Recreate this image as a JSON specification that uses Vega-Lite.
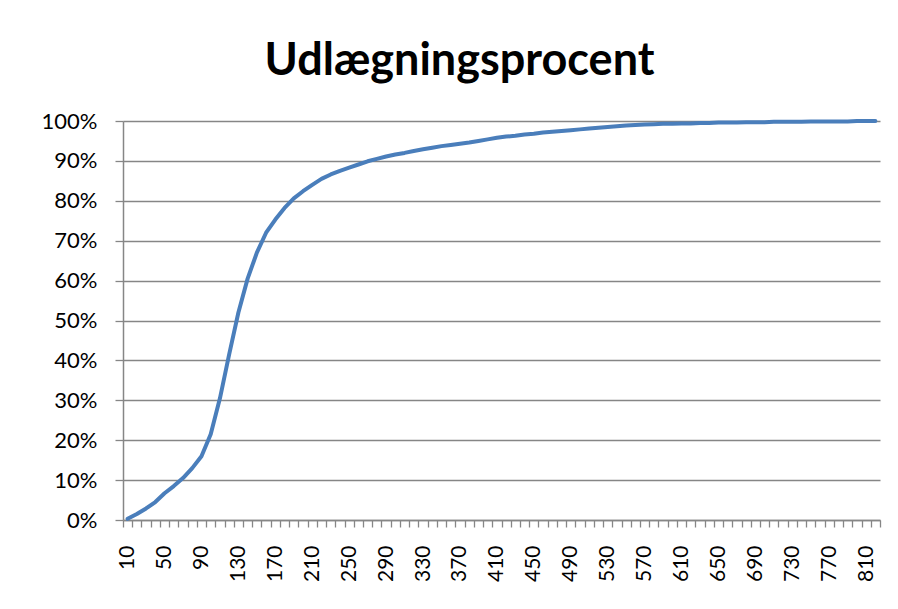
{
  "$schema": "https://vega.github.io/schema/vega-lite/v6.json",
  "width": 757,
  "height": 399,
  "autosize": {"type": "none"},
  "padding": {"left": 123, "top": 121, "right": 18, "bottom": 89},
  "background": "white",
  "title": {
    "text": "Udlægningsprocent",
    "font": "Lato",
    "fontSize": 45,
    "fontWeight": "bold",
    "color": "#000000",
    "anchor": "middle",
    "frame": "group",
    "dx": -42,
    "dy": 53,
    "baseline": "alphabetic",
    "offset": 43
  },
  "config": {
    "view": {"stroke": null},
    "axis": {"labelFont": "Lato", "labelColor": "#000000", "labelFontSize": 21}
  },
  "data": {
    "values": [
      {"kategori": 10, "andel": 0.003},
      {"kategori": 20, "andel": 0.015},
      {"kategori": 30, "andel": 0.029},
      {"kategori": 40, "andel": 0.045},
      {"kategori": 50, "andel": 0.067},
      {"kategori": 60, "andel": 0.085},
      {"kategori": 70, "andel": 0.105},
      {"kategori": 80, "andel": 0.13},
      {"kategori": 90, "andel": 0.16},
      {"kategori": 100, "andel": 0.215},
      {"kategori": 110, "andel": 0.305},
      {"kategori": 120, "andel": 0.415},
      {"kategori": 130, "andel": 0.52},
      {"kategori": 140, "andel": 0.605},
      {"kategori": 150, "andel": 0.67},
      {"kategori": 160, "andel": 0.72},
      {"kategori": 170, "andel": 0.753},
      {"kategori": 180, "andel": 0.782},
      {"kategori": 190, "andel": 0.806},
      {"kategori": 200, "andel": 0.824},
      {"kategori": 210, "andel": 0.84},
      {"kategori": 220, "andel": 0.855},
      {"kategori": 230, "andel": 0.866},
      {"kategori": 240, "andel": 0.875},
      {"kategori": 250, "andel": 0.883},
      {"kategori": 260, "andel": 0.891},
      {"kategori": 270, "andel": 0.899},
      {"kategori": 280, "andel": 0.905},
      {"kategori": 290, "andel": 0.911},
      {"kategori": 300, "andel": 0.916},
      {"kategori": 310, "andel": 0.92},
      {"kategori": 320, "andel": 0.925},
      {"kategori": 330, "andel": 0.929},
      {"kategori": 340, "andel": 0.933},
      {"kategori": 350, "andel": 0.937},
      {"kategori": 360, "andel": 0.94},
      {"kategori": 370, "andel": 0.943},
      {"kategori": 380, "andel": 0.946},
      {"kategori": 390, "andel": 0.95},
      {"kategori": 400, "andel": 0.954},
      {"kategori": 410, "andel": 0.958},
      {"kategori": 420, "andel": 0.961},
      {"kategori": 430, "andel": 0.963},
      {"kategori": 440, "andel": 0.966},
      {"kategori": 450, "andel": 0.968},
      {"kategori": 460, "andel": 0.971},
      {"kategori": 470, "andel": 0.973},
      {"kategori": 480, "andel": 0.975},
      {"kategori": 490, "andel": 0.977},
      {"kategori": 500, "andel": 0.979},
      {"kategori": 510, "andel": 0.981},
      {"kategori": 520, "andel": 0.983},
      {"kategori": 530, "andel": 0.985},
      {"kategori": 540, "andel": 0.987},
      {"kategori": 550, "andel": 0.989},
      {"kategori": 560, "andel": 0.99},
      {"kategori": 570, "andel": 0.991},
      {"kategori": 580, "andel": 0.992},
      {"kategori": 590, "andel": 0.993},
      {"kategori": 600, "andel": 0.993},
      {"kategori": 610, "andel": 0.994},
      {"kategori": 620, "andel": 0.994},
      {"kategori": 630, "andel": 0.995},
      {"kategori": 640, "andel": 0.995},
      {"kategori": 650, "andel": 0.996},
      {"kategori": 660, "andel": 0.996},
      {"kategori": 670, "andel": 0.996},
      {"kategori": 680, "andel": 0.997},
      {"kategori": 690, "andel": 0.997},
      {"kategori": 700, "andel": 0.997},
      {"kategori": 710, "andel": 0.998},
      {"kategori": 720, "andel": 0.998},
      {"kategori": 730, "andel": 0.998},
      {"kategori": 740, "andel": 0.998},
      {"kategori": 750, "andel": 0.999},
      {"kategori": 760, "andel": 0.999},
      {"kategori": 770, "andel": 0.999},
      {"kategori": 780, "andel": 0.999},
      {"kategori": 790, "andel": 0.999},
      {"kategori": 800, "andel": 1.0},
      {"kategori": 810, "andel": 1.0},
      {"kategori": 820, "andel": 1.0}
    ]
  },
  "mark": {"type": "line", "color": "#4a7ebb", "strokeWidth": 4, "strokeCap": "round", "strokeJoin": "round"},
  "encoding": {
    "x": {
      "field": "kategori",
      "type": "ordinal",
      "scale": {"type": "band", "paddingInner": 0, "paddingOuter": 0},
      "axis": {
        "title": null,
        "labelAngle": -90,
        "labelAlign": "right",
        "labelBaseline": "middle",
        "labelPadding": 18,
        "labelExpr": "(datum.value - 10) % 40 == 0 ? datum.label : ''",
        "labelOverlap": false,
        "tickBand": "extent",
        "tickSize": 7,
        "tickColor": "#868686",
        "tickWidth": 1.3,
        "domainColor": "#868686",
        "domainWidth": 1.5,
        "grid": false
      }
    },
    "y": {
      "field": "andel",
      "type": "quantitative",
      "scale": {"domain": [0, 1], "nice": false, "zero": true},
      "axis": {
        "title": null,
        "values": [0, 0.1, 0.2, 0.3, 0.4, 0.5, 0.6, 0.7, 0.8, 0.9, 1.0],
        "format": ".0%",
        "tickSize": 8,
        "tickColor": "#868686",
        "tickWidth": 1.3,
        "labelPadding": 18,
        "labelFontSize": 22,
        "domainColor": "#868686",
        "domainWidth": 1.5,
        "grid": true,
        "gridColor": "#868686",
        "gridWidth": 1.3
      }
    }
  }
}
